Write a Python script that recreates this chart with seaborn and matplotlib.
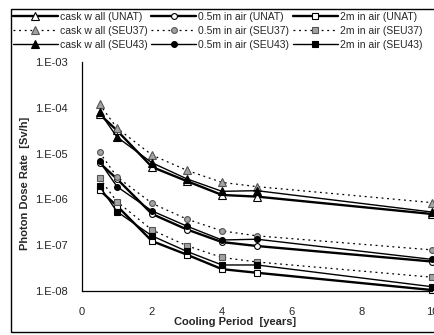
import numpy as np
import pandas as pd
import matplotlib
matplotlib.use('Agg')
import matplotlib.pyplot as plt
import matplotlib.ticker as mticker
from matplotlib.patches import Rectangle
from matplotlib.transforms import Bbox, TransformedBbox
import seaborn as sns

# cooling period [years]
years = [0.5, 1, 2, 3, 4, 5, 10]

# photon dose rate [Sv/h]
cask_unat = [7.3e-5, 3.2e-5, 5.1e-6, 2.5e-6, 1.25e-6, 1.15e-6, 4.8e-7]
cask_seu37 = [1.2e-4, 3.6e-5, 9.3e-6, 4.3e-6, 2.35e-6, 1.9e-6, 8.5e-7]
cask_seu43 = [8.1e-5, 2.3e-5, 6.3e-6, 2.8e-6, 1.5e-6, 1.55e-6, 5.3e-7]

m05_unat = [6.3e-6, 2.8e-6, 4.8e-7, 2.2e-7, 1.17e-7, 9.6e-8, 4.4e-8]
m05_seu37 = [1.07e-5, 3.1e-6, 8.2e-7, 3.7e-7, 2.05e-7, 1.6e-7, 7.9e-8]
m05_seu43 = [6.8e-6, 1.9e-6, 5.6e-7, 2.6e-7, 1.3e-7, 1.35e-7, 4.9e-8]

m2_unat = [1.6e-6, 7.2e-7, 1.23e-7, 6.2e-8, 3.0e-8, 2.5e-8, 1.05e-8]
m2_seu37 = [2.9e-6, 8.9e-7, 2.15e-7, 9.7e-8, 5.4e-8, 4.3e-8, 2.0e-8]
m2_seu43 = [1.95e-6, 5.4e-7, 1.6e-7, 7.3e-8, 3.7e-8, 3.7e-8, 1.24e-8]

locations = ['cask w all', '0.5m in air', '2m in air']
sources = ['UNAT', 'SEU37', 'SEU43']
values = {
    'cask w all': [cask_unat, cask_seu37, cask_seu43],
    '0.5m in air': [m05_unat, m05_seu37, m05_seu43],
    '2m in air': [m2_unat, m2_seu37, m2_seu43],
}

rows = []
for loc in locations:
    for src, vals in zip(sources, values[loc]):
        for x, v in zip(years, vals):
            rows.append({'loc': loc, 'src': src, 'year': x, 'dose': v})
df = pd.DataFrame(rows)

sns.set_style('white')
plt.rcParams['font.family'] = ['Liberation Sans', 'DejaVu Sans']

markers = {'cask w all': '^', '0.5m in air': 'o', '2m in air': 's'}
msizes = {'cask w all': 5.5, '0.5m in air': 4.2, '2m in air': 4.8}
styles = {
    'UNAT': dict(linestyle='-', lw=1.7, mfc='white', mec='black'),
    'SEU37': dict(linestyle=(0, (1.5, 3)), lw=0.9, mfc='#a3a3a3', mec='#555555'),
    'SEU43': dict(linestyle='-', lw=1.0, mfc='black', mec='black'),
}

fig = plt.figure(figsize=(4.34, 3.35), dpi=100)
ax = fig.add_axes([82/434, 44/335, (432-82)/434, (291-62)/335])

for loc in locations:
    for src in sources:
        st = styles[src]
        sub = df[(df['loc'] == loc) & (df['src'] == src)]
        sns.lineplot(data=sub, x='year', y='dose', ax=ax, color='black',
                     linestyle=st['linestyle'], lw=st['lw'], marker=markers[loc],
                     markersize=msizes[loc], markerfacecolor=st['mfc'],
                     markeredgecolor=st['mec'], markeredgewidth=0.8,
                     label=f'{loc} ({src})', legend=False, clip_on=False)

ax.set_yscale('log')
ax.set_ylim(1e-8, 1e-3)
ax.set_xlim(0, 10)
ax.xaxis.set_major_locator(mticker.MultipleLocator(2))
ax.xaxis.set_minor_locator(mticker.MultipleLocator(1))
ax.yaxis.set_major_locator(mticker.LogLocator(base=10, numticks=10))
ax.yaxis.set_minor_locator(mticker.LogLocator(base=10, subs=np.arange(2, 10), numticks=20))
ax.yaxis.set_major_formatter(mticker.FuncFormatter(lambda v, p: '1.E-%02d' % round(-np.log10(v))))
ax.yaxis.set_minor_formatter(mticker.NullFormatter())
ax.tick_params(axis='both', which='major', labelsize=8, direction='out', length=3.5,
               width=0.8, color='black', pad=3)
ax.tick_params(axis='y', which='minor', direction='in', length=2.5, width=0.6, color='black')
ax.tick_params(axis='x', which='minor', direction='out', length=3.5, width=0.8, color='black')
ax.tick_params(axis='x', which='major', pad=8)
ax.tick_params(axis='y', which='major', pad=7)
for s in ['top', 'right']:
    ax.spines[s].set_visible(False)
for s in ['left', 'bottom']:
    ax.spines[s].set_color('black')
    ax.spines[s].set_linewidth(0.9)
ax.set_xlabel('')
ax.set_ylabel('')

fig.text(235/434, 1-322/335, 'Cooling Period  [years]', ha='center', va='center',
         fontsize=8, fontweight='bold')
yl = fig.text(25/434, 1-250/335, 'Photon Dose Rate  [Sv/h]', rotation=90,
              ha='center', va='bottom', fontsize=8, fontweight='bold')
yl.set_clip_on(True)
yl.set_clip_box(TransformedBbox(Bbox([[0, 0], [1, 1-102/335]]), fig.transFigure))

handles, labels = ax.get_legend_handles_labels()
fig.legend(handles, labels, ncol=3, loc='upper left', bbox_to_anchor=(11/434, 1-10/335),
           frameon=False, fontsize=7.5, handlelength=4.3, handletextpad=0.2,
           columnspacing=0.35, labelspacing=0.38, borderpad=0.2, borderaxespad=0)

fig.patches.append(Rectangle((11/434, 1-332/335), 1.0, (332-9)/335, transform=fig.transFigure,
                             fill=False, edgecolor='black', linewidth=1.0))

fig.savefig('out.png', dpi=100)
